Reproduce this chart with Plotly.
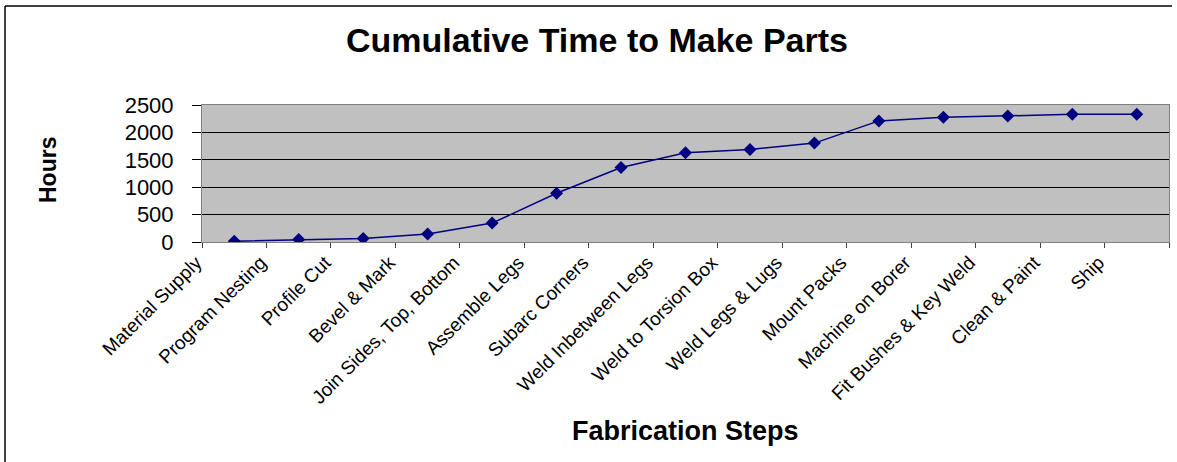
import plotly.graph_objects as go

steps = ["Material Supply", "Program Nesting", "Profile Cut", "Bevel & Mark",
         "Join Sides, Top, Bottom", "Assemble Legs", "Subarc Corners",
         "Weld Inbetween Legs", "Weld to Torsion Box", "Weld Legs & Lugs",
         "Mount Packs", "Machine on Borer", "Fit Bushes & Key Weld",
         "Clean & Paint", "Ship"]
hours = [15, 45, 65, 145, 345, 890, 1360, 1630, 1690, 1805, 2210, 2275, 2300, 2330, 2330]
y_ticks = [0, 500, 1000, 1500, 2000, 2500]

W, H = 1177, 462
L, R, T, B = 202, 1169, 105, 242

def px(x):
    return (x - L) / (R - L)

def py(y):
    return (B - y) / (B - T)

fig = go.Figure()
fig.add_trace(go.Scatter(
    x=steps, y=hours, mode="lines+markers",
    line=dict(color="#000080", width=1.5),
    marker=dict(symbol="diamond", size=10, color="#000080"),
    showlegend=False,
))

font = "Liberation Sans, Arial, sans-serif"
fig.update_layout(
    width=W, height=H,
    margin=dict(l=L, r=W - R, t=T, b=H - B, autoexpand=False),
    paper_bgcolor="white",
    plot_bgcolor="#C0C0C0",
    font=dict(family=font, color="black"),
    title=dict(text="<b>Cumulative Time to Make Parts</b>", x=597 / W, xanchor="center",
               y=1 - 40 / H, yanchor="middle", font=dict(size=34, family=font)),
    xaxis=dict(
        type="category", tickson="boundaries", ticks="outside", ticklen=5,
        tickcolor="#404040", tickangle=-45, tickfont=dict(size=19, family=font),
        ticklabelshift=-38, ticklabelstandoff=1,
        showgrid=False, showline=True, linecolor="#808080", mirror=True,
        range=[-0.5, len(steps) - 0.5], automargin=False,
    ),
    yaxis=dict(
        range=[0, 2500], tickvals=y_ticks, ticks="outside", ticklen=9,
        tickcolor="black", tickfont=dict(size=22, family=font),
        ticklabelstandoff=14,
        showgrid=True, gridcolor="black", gridwidth=1, zeroline=False,
        showline=True, linecolor="#808080", mirror=True, automargin=False,
    ),
    shapes=[
        dict(type="line", xref="paper", yref="paper",
             x0=px(5), x1=px(1172), y0=py(6), y1=py(6),
             line=dict(color="black", width=1.5), layer="below"),
        dict(type="line", xref="paper", yref="paper",
             x0=px(5), x1=px(5), y0=py(6), y1=py(470),
             line=dict(color="black", width=1.5), layer="below"),
    ],
    annotations=[
        dict(text="<b>Fabrication Steps</b>", xref="paper", yref="paper",
             x=px(685), y=py(431), xanchor="center", yanchor="middle",
             showarrow=False, font=dict(size=27, family=font)),
        dict(text="<b>Hours</b>", xref="paper", yref="paper",
             x=px(48), y=py(170), xanchor="center", yanchor="middle",
             textangle=-90, showarrow=False, font=dict(size=23, family=font)),
    ],
)

fig.write_html("out.html")
